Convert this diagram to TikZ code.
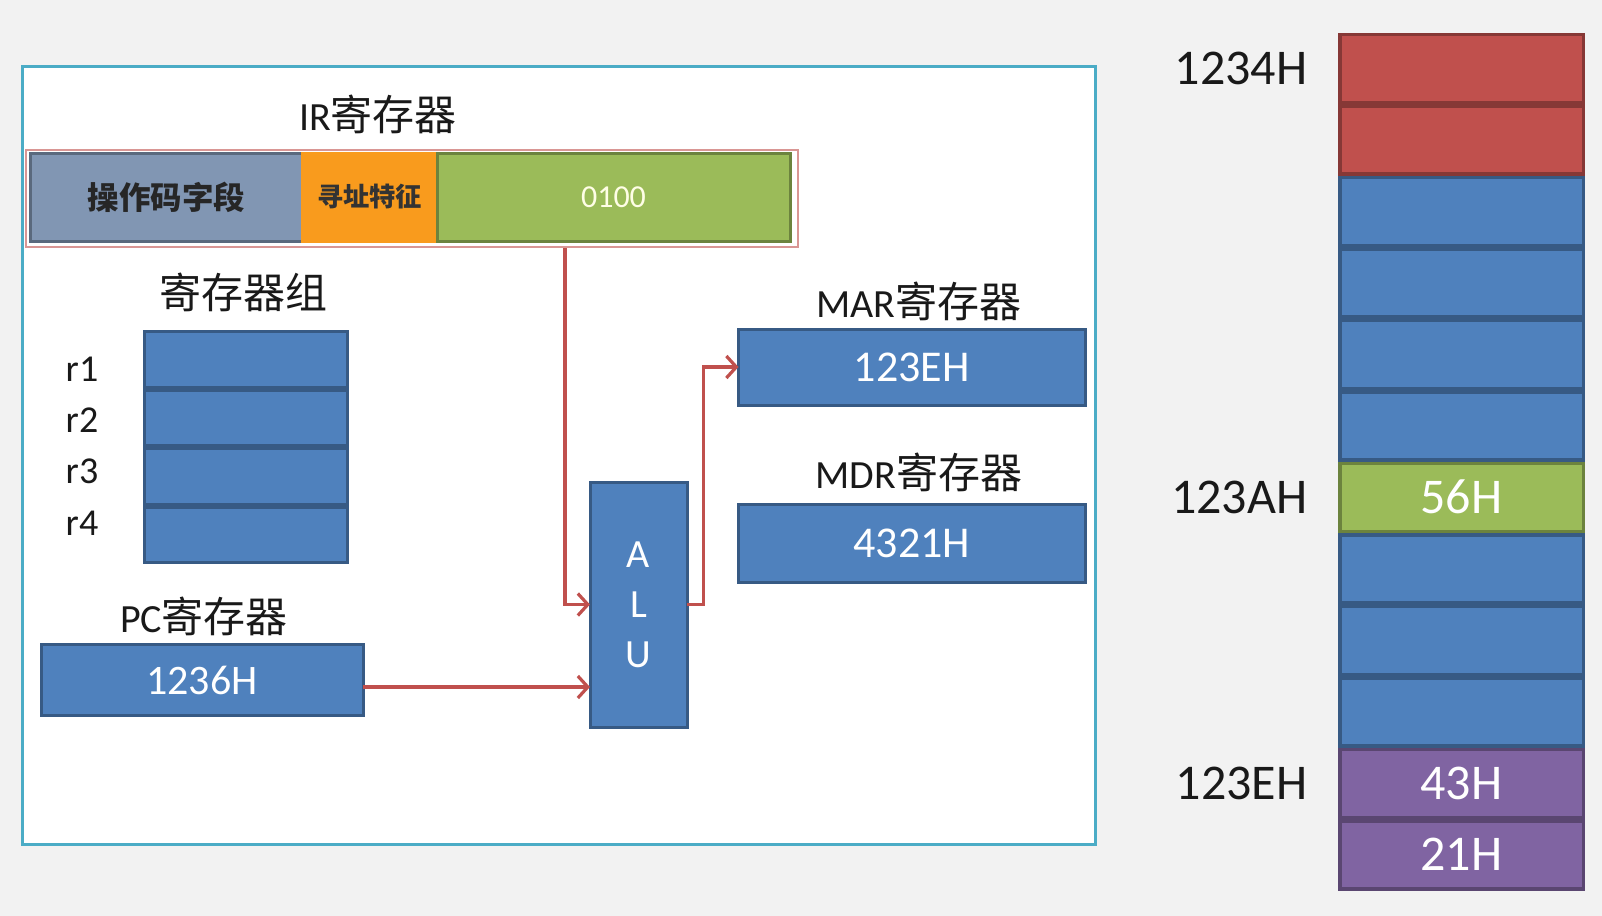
\documentclass[tikz,border=0pt]{standalone}
\usepackage{fontspec}
\setmainfont{Carlito}
\newfontfamily\cjk[Scale=1.05]{Noto Sans CJK SC}
\usetikzlibrary{positioning,arrows.meta}
\definecolor{bggray}{HTML}{F2F2F2}
\definecolor{panelcyan}{HTML}{4BACC6}
\definecolor{regblue}{HTML}{4F81BD}
\definecolor{memred}{HTML}{C0504D}
\definecolor{memgreen}{HTML}{9BBB59}
\definecolor{mempurple}{HTML}{8064A2}
\definecolor{opgray}{HTML}{8196B3}
\definecolor{addrorange}{HTML}{F99B1D}
\tikzset{
	box/.style={draw=#1!70!black,fill=#1,line width=1.5pt,inner sep=0pt,outer sep=0pt,text=white},
	title/.style={font=\fontsize{20}{22}\selectfont,text=black!90},
	arr/.style={draw=memred,line width=1.6pt,-{Straight Barb[length=5pt,width=11pt]}},
}
\begin{document}
\begin{tikzpicture}[x=0.5pt,y=-0.5pt]
				\fill[bggray] (0,0) rectangle (1602,916);
				\useasboundingbox (0,0) rectangle (1602,916);
				\draw[panelcyan,line width=1.5pt,fill=white] (22.5,66.5) rectangle (1095,844);
				% IR
				\node[title] (irlabel) at (378,114) {IR{\cjk 寄存器}};
				\node[draw=memred!60,line width=1pt,fill=white,inner sep=0pt,minimum width=386pt,minimum height=48.5pt] (ir) at (411.75,198.5) {};
				\node[box=opgray,minimum width=135.7pt,minimum height=44pt,text=black!85,font=\fontsize{15}{17}\selectfont] (op) at (166.3,197) {{\cjk\bfseries 操作码字段}};
				\node[box=addrorange,draw=addrorange,minimum width=67.5pt,minimum height=44pt,text=black!80,font=\fontsize{12.5}{14}\selectfont,right=0pt of op] (addr) {{\cjk\bfseries 寻址特征}};
				\node[box=memgreen,minimum width=176.5pt,minimum height=44pt,text=white!90!yellow,font=\fontsize{16}{18}\selectfont,right=0pt of addr] (val) {0100};
				% register group
				\node[title] (grplabel) at (243,292) {{\cjk 寄存器组}};
				\foreach \i in {1,2,3,4}{
					\node[box=regblue,minimum width=101.5pt,minimum height=27.75pt] (r\i) at (245.5,{330+58.5*(\i-0.5)}) {};
					\node[title,font=\fontsize{19}{21}\selectfont] (rl\i) at (82,{369+51.3*(\i-1)}) {r\i};
				}
				% PC
				\node[title] (pclabel) at (204,616) {PC{\cjk 寄存器}};
				\node[box=regblue,minimum width=161pt,minimum height=35.5pt,font=\fontsize{21}{23}\selectfont] (pc) at (202,680) {1236H};
				% ALU
				\node[box=regblue,minimum width=48.5pt,minimum height=122.5pt,align=center,font=\fontsize{20}{25}\selectfont] (alu) at (638.5,604.5) {A\\L\\U};
				% MAR / MDR
				\node[title] (marlabel) at (919,301) {MAR{\cjk 寄存器}};
				\node[box=regblue,minimum width=173.25pt,minimum height=38pt,font=\fontsize{22}{24}\selectfont] (mar) at (911.75,367) {123EH};
				\node[title] (mdrlabel) at (919,472) {MDR{\cjk 寄存器}};
				\node[box=regblue,minimum width=173.25pt,minimum height=39pt,font=\fontsize{22}{24}\selectfont] (mdr) at (911.75,543) {4321H};
				% connectors
				\draw[arr] ([xshift=76.6pt]ir.south) |- (alu.west);
				\draw[arr] ([yshift=-3.5pt]pc.east) -- ([yshift=-3.5pt]pc.east -| alu.west);
				\draw[arr] (alu.east) -- ++(16.5,0) |- (mar.west);
				% memory
				\foreach \c/\t [count=\i] in {memred/{},memred/{},regblue/{},regblue/{},regblue/{},regblue/{},memgreen/56H,regblue/{},regblue/{},regblue/{},mempurple/43H,mempurple/21H}{
					\node[box=\c,line width=1.75pt,minimum width=121.75pt,minimum height=34pt,font=\fontsize{25}{27}\selectfont] (m\i) at (1461.5,{32.5+71.5*(\i-0.5)}) {\t};
				}
				\node[title,font=\fontsize{25}{27}\selectfont,inner sep=0pt,left=16pt of m1] (a1) {1234H};
				\node[title,font=\fontsize{25}{27}\selectfont,inner sep=0pt,left=16pt of m7] (a7) {123AH};
				\node[title,font=\fontsize{25}{27}\selectfont,inner sep=0pt,left=16pt of m11] (a11) {123EH};
			\end{tikzpicture}
\end{document}
